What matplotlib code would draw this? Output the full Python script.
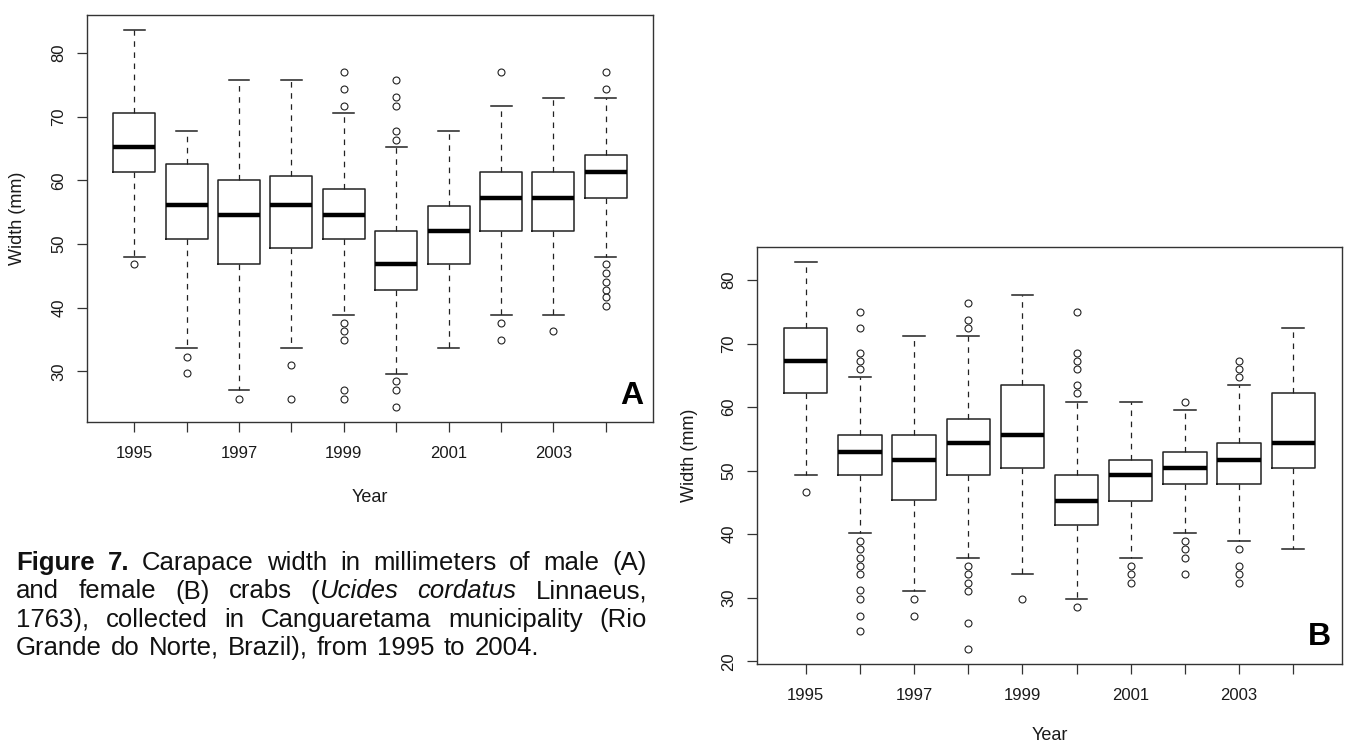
import matplotlib
matplotlib.use("Agg")
import matplotlib.pyplot as plt

plt.rcParams["font.family"] = ["Liberation Sans", "DejaVu Sans"]
plt.rcParams["lines.scale_dashes"] = False

years = list(range(1995, 2005))
year_labels = ["1995", "", "1997", "", "1999", "", "2001", "", "2003", ""]

# panel A - males
a_hi = [83.6, 67.8, 75.8, 75.8, 70.5, 65.2, 67.8, 71.7, 73.0, 73.0]
a_q3 = [70.5, 62.5, 60.0, 60.6, 58.6, 52.1, 56.0, 61.3, 61.3, 63.9]
a_med = [65.2, 56.1, 54.6, 56.1, 54.6, 46.8, 52.1, 57.2, 57.2, 61.3]
a_q1 = [61.3, 50.8, 46.8, 49.4, 50.8, 42.7, 46.8, 52.1, 52.1, 57.2]
a_lo = [48.0, 33.6, 27.1, 33.6, 38.9, 29.6, 33.6, 38.9, 38.9, 48.0]
a_out = [
    [46.8],
    [32.3, 29.7],
    [25.7],
    [31.0, 25.7],
    [77.0, 74.4, 71.7, 37.6, 36.3, 34.9, 27.1, 25.7],
    [75.8, 73.1, 71.7, 67.8, 66.4, 28.4, 27.1, 24.4],
    [],
    [77.0, 37.6, 34.9],
    [36.3],
    [77.0, 74.4, 46.8, 45.5, 44.1, 42.8, 41.6, 40.3],
]

# panel B - females
b_hi = [82.8, 64.7, 71.2, 71.2, 77.7, 60.8, 60.8, 59.5, 63.5, 72.4]
b_q3 = [72.4, 55.7, 55.7, 58.2, 63.5, 49.3, 51.7, 53.0, 54.4, 62.2]
b_med = [67.3, 53.0, 51.7, 54.4, 55.7, 45.3, 49.3, 50.4, 51.7, 54.4]
b_q1 = [62.2, 49.3, 45.4, 49.3, 50.4, 41.5, 45.3, 47.9, 47.9, 50.4]
b_lo = [49.3, 40.2, 31.1, 36.3, 33.8, 29.8, 36.3, 40.2, 38.9, 37.6]
b_out = [
    [46.6],
    [75.0, 72.4, 68.6, 67.3, 66.0, 38.9, 37.6, 36.3, 35.0, 33.8, 31.2, 29.8, 27.1, 24.7],
    [29.8, 27.1],
    [76.4, 73.7, 72.4, 35.0, 33.8, 32.4, 31.1, 26.0, 22.0],
    [29.8],
    [75.0, 68.6, 67.3, 66.0, 63.5, 62.2, 28.5],
    [35.0, 33.8, 32.4],
    [60.8, 38.9, 37.6, 36.3, 33.8],
    [67.3, 66.0, 64.7, 37.6, 35.0, 33.8, 32.4],
    [],
]

W, H = 1351, 743
fig = plt.figure(figsize=(W / 100, H / 100), dpi=100)
fig.patch.set_facecolor("white")


def px_axes(left, top, right, bottom):
    return fig.add_axes([left / W, 1 - bottom / H, (right - left) / W, (bottom - top) / H])


def draw_panel(ax, hi, q3, med, q1, lo, out, yticks, letter, ylab_x, xlab_y):
    stats = []
    for i in range(len(years)):
        stats.append(dict(whishi=hi[i], q3=q3[i], med=med[i], q1=q1[i],
                          whislo=lo[i], fliers=out[i]))
    ax.bxp(stats, positions=range(1, len(years) + 1), widths=0.8,
           capwidths=0.4, patch_artist=False,
           boxprops=dict(color="#222222", linewidth=1.1),
           medianprops=dict(color="black", linewidth=3.2, solid_capstyle="butt"),
           whiskerprops=dict(color="#222222", linewidth=0.9, linestyle=(0, (4, 4))),
           capprops=dict(color="#222222", linewidth=1.1),
           flierprops=dict(marker="o", markersize=5, markerfacecolor="none",
                           markeredgecolor="#222222", markeredgewidth=0.8))
    allv = hi + lo + [v for o in out for v in o]
    vmin, vmax = min(allv), max(allv)
    pad = 0.04 * (vmax - vmin)
    ax.set_ylim(vmin - pad, vmax + pad)
    ax.set_xlim(0.1, len(years) + 0.9)
    ax.set_xticks(range(1, len(years) + 1))
    ax.set_xticklabels(year_labels)
    ax.set_yticks(yticks)
    ax.set_yticklabels([str(v) for v in yticks])
    ax.tick_params(axis="both", direction="out", length=7.2, width=0.9,
                   color="#333333", labelsize=12, labelcolor="#1a1a1a")
    ax.tick_params(axis="x", pad=10)
    ax.tick_params(axis="y", pad=7.5, labelrotation=90)
    for lab in ax.get_yticklabels():
        lab.set_va("center")
    for sp in ax.spines.values():
        sp.set_color("#333333")
        sp.set_linewidth(1.0)
    ax.set_xlabel("Year", fontsize=13, color="#1a1a1a", va="center")
    ax.set_ylabel("Width (mm)", fontsize=13, color="#1a1a1a", va="center")
    ax.xaxis.set_label_coords(0.5, xlab_y)
    ax.yaxis.set_label_coords(ylab_x, 0.5)
    ax.text(0.962, 0.065, letter, transform=ax.transAxes, fontsize=23,
            fontweight="bold", ha="center", va="center")


ax_a = px_axes(87, 15, 653, 422)
draw_panel(ax_a, a_hi, a_q3, a_med, a_q1, a_lo, a_out,
           [30, 40, 50, 60, 70, 80], "A", (18 - 87) / 566, (422 - 497) / 407)

ax_b = px_axes(757, 247, 1342, 664)
draw_panel(ax_b, b_hi, b_q3, b_med, b_q1, b_lo, b_out,
           [20, 30, 40, 50, 60, 70, 80], "B", (690 - 757) / 585, (664 - 736) / 417)

# caption, justified like the original
N, B, I = ("normal", "normal"), ("bold", "normal"), ("normal", "italic")
caption = [
    ([[("Figure", B)], [("7.", B)], [("Carapace", N)], [("width", N)], [("in", N)],
      [("millimeters", N)], [("of", N)], [("male", N)], [("(A)", N)]], 570, 647),
    ([[("and", N)], [("female", N)], [("(B)", N)], [("crabs", N)],
      [("(", N), ("Ucides", I)], [("cordatus", I)], [("Linnaeus,", N)]], 598.5, 647),
    ([[("1763),", N)], [("collected", N)], [("in", N)], [("Canguaretama", N)],
      [("municipality", N)], [("(Rio", N)]], 627, 647),
    ([[("Grande", N)], [("do", N)], [("Norte,", N)], [("Brazil),", N)], [("from", N)],
      [("1995", N)], [("to", N)], [("2004.", N)]], 655, 539),
]

renderer = fig.canvas.get_renderer()
x_left = 16
for words, y_base, x_right in caption:
    placed = []
    widths = []
    for word in words:
        parts = []
        total = 0
        for s, (weight, style) in word:
            t = fig.text(0, 1 - y_base / H, s, fontsize=18.5, fontweight=weight,
                         fontstyle=style, ha="left", va="baseline", color="#111111")
            w = t.get_window_extent(renderer).width
            parts.append((t, w))
            total += w
        placed.append(parts)
        widths.append(total)
    gap = (x_right - x_left - sum(widths)) / (len(words) - 1)
    x = x_left
    for parts, total in zip(placed, widths):
        xx = x
        for t, w in parts:
            t.set_x(xx / W)
            xx += w
        x += total + gap

fig.savefig("out.png", dpi=100, facecolor="white")
